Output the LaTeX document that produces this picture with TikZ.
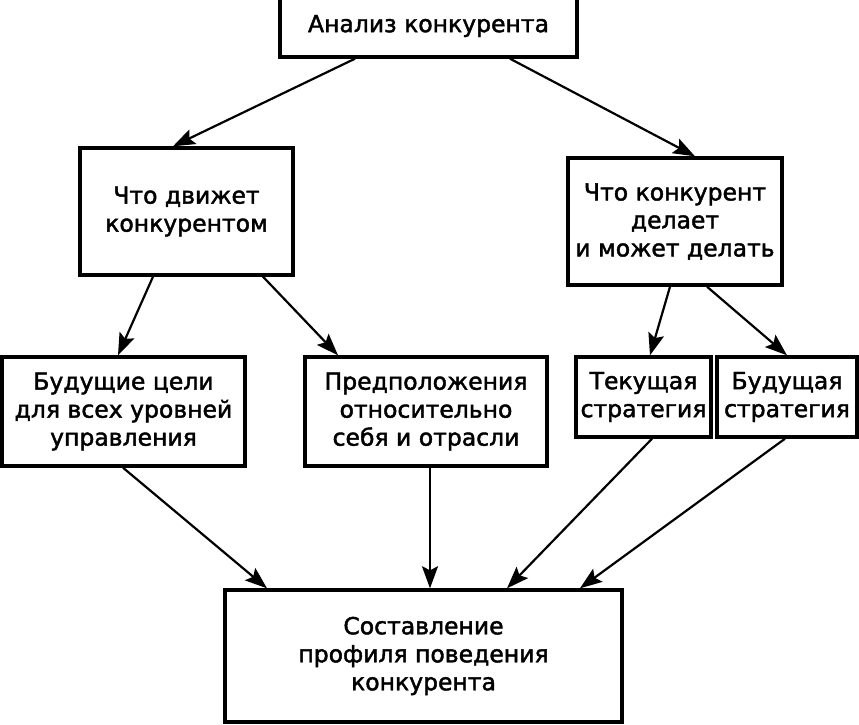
\documentclass[tikz,border=0pt]{standalone}
\usepackage{fontspec}
\setmainfont{DejaVu Sans}[BoldFont=DejaVu Sans,BoldFeatures={FakeBold=1.8}]
\usetikzlibrary{arrows.meta,calc}
\begin{document}
\begin{tikzpicture}[x=1pt,y=-1pt,
  box/.style={draw,line width=3.4pt,rectangle,inner sep=0pt,align=center,
    font=\fontsize{23.5}{28}\selectfont\bfseries},
  arr/.style={line width=2.2pt,-{Stealth[length=22pt,width=16pt,inset=4pt]}}]
\useasboundingbox (0,0) rectangle (859,725);
\fill[white] (0,0) rectangle (859,725);
\node[box,minimum width=297pt,minimum height=62pt] (top) at (428.5,26) {\raisebox{-2pt}{Анализ конкурента}};
\node[box,minimum width=213pt,minimum height=127pt] (drv) at (186.5,211.5) {Что движет\\конкурентом};
\node[box,minimum width=214pt,minimum height=127pt] (does) at (675,221.5) {Что конкурент\\делает\\и может делать};
\node[box,minimum width=243pt,minimum height=109pt] (goals) at (123.5,411.5) {Будущие цели\\для всех уровней\\управления};
\node[box,minimum width=242pt,minimum height=109pt] (assum) at (426,411.5) {Предположения\\относительно\\себя и отрасли};
\node[box,minimum width=135pt,minimum height=80pt] (cur) at (643.5,397) {Текущая\\стратегия};
\node[box,minimum width=140pt,minimum height=80pt] (fut) at (787,397) {Будущая\\стратегия};
\node[box,minimum width=397pt,minimum height=132pt] (prof) at (423.5,656) {Составление\\профиля поведения\\конкурента};
\draw[arr] ([xshift=-73.5pt]top.south) -- ([xshift=-13.5pt]drv.north);
\draw[arr] ([xshift=81.5pt]top.south) -- ([xshift=20pt]does.north);
\draw[arr] ([xshift=-33.5pt]drv.south) -- ([xshift=-5.5pt]goals.north);
\draw[arr] ([xshift=76.5pt]drv.south) -- ([xshift=-88pt]assum.north);
\draw[arr] ([xshift=-5pt]does.south) -- ([xshift=6.5pt]cur.north);
\draw[arr] ([xshift=32pt]does.south) -- ([xshift=0pt]fut.north);
\draw[arr] ([xshift=-0.5pt]goals.south) -- ([xshift=-156.5pt]prof.north);
\draw[arr] ([xshift=4pt]assum.south) -- ([xshift=6.5pt]prof.north);
\draw[arr] ([xshift=8.5pt]cur.south) -- ([xshift=83.5pt]prof.north);
\draw[arr] ([xshift=-2pt]fut.south) -- ([xshift=156.5pt]prof.north);
\end{tikzpicture}
\end{document}
